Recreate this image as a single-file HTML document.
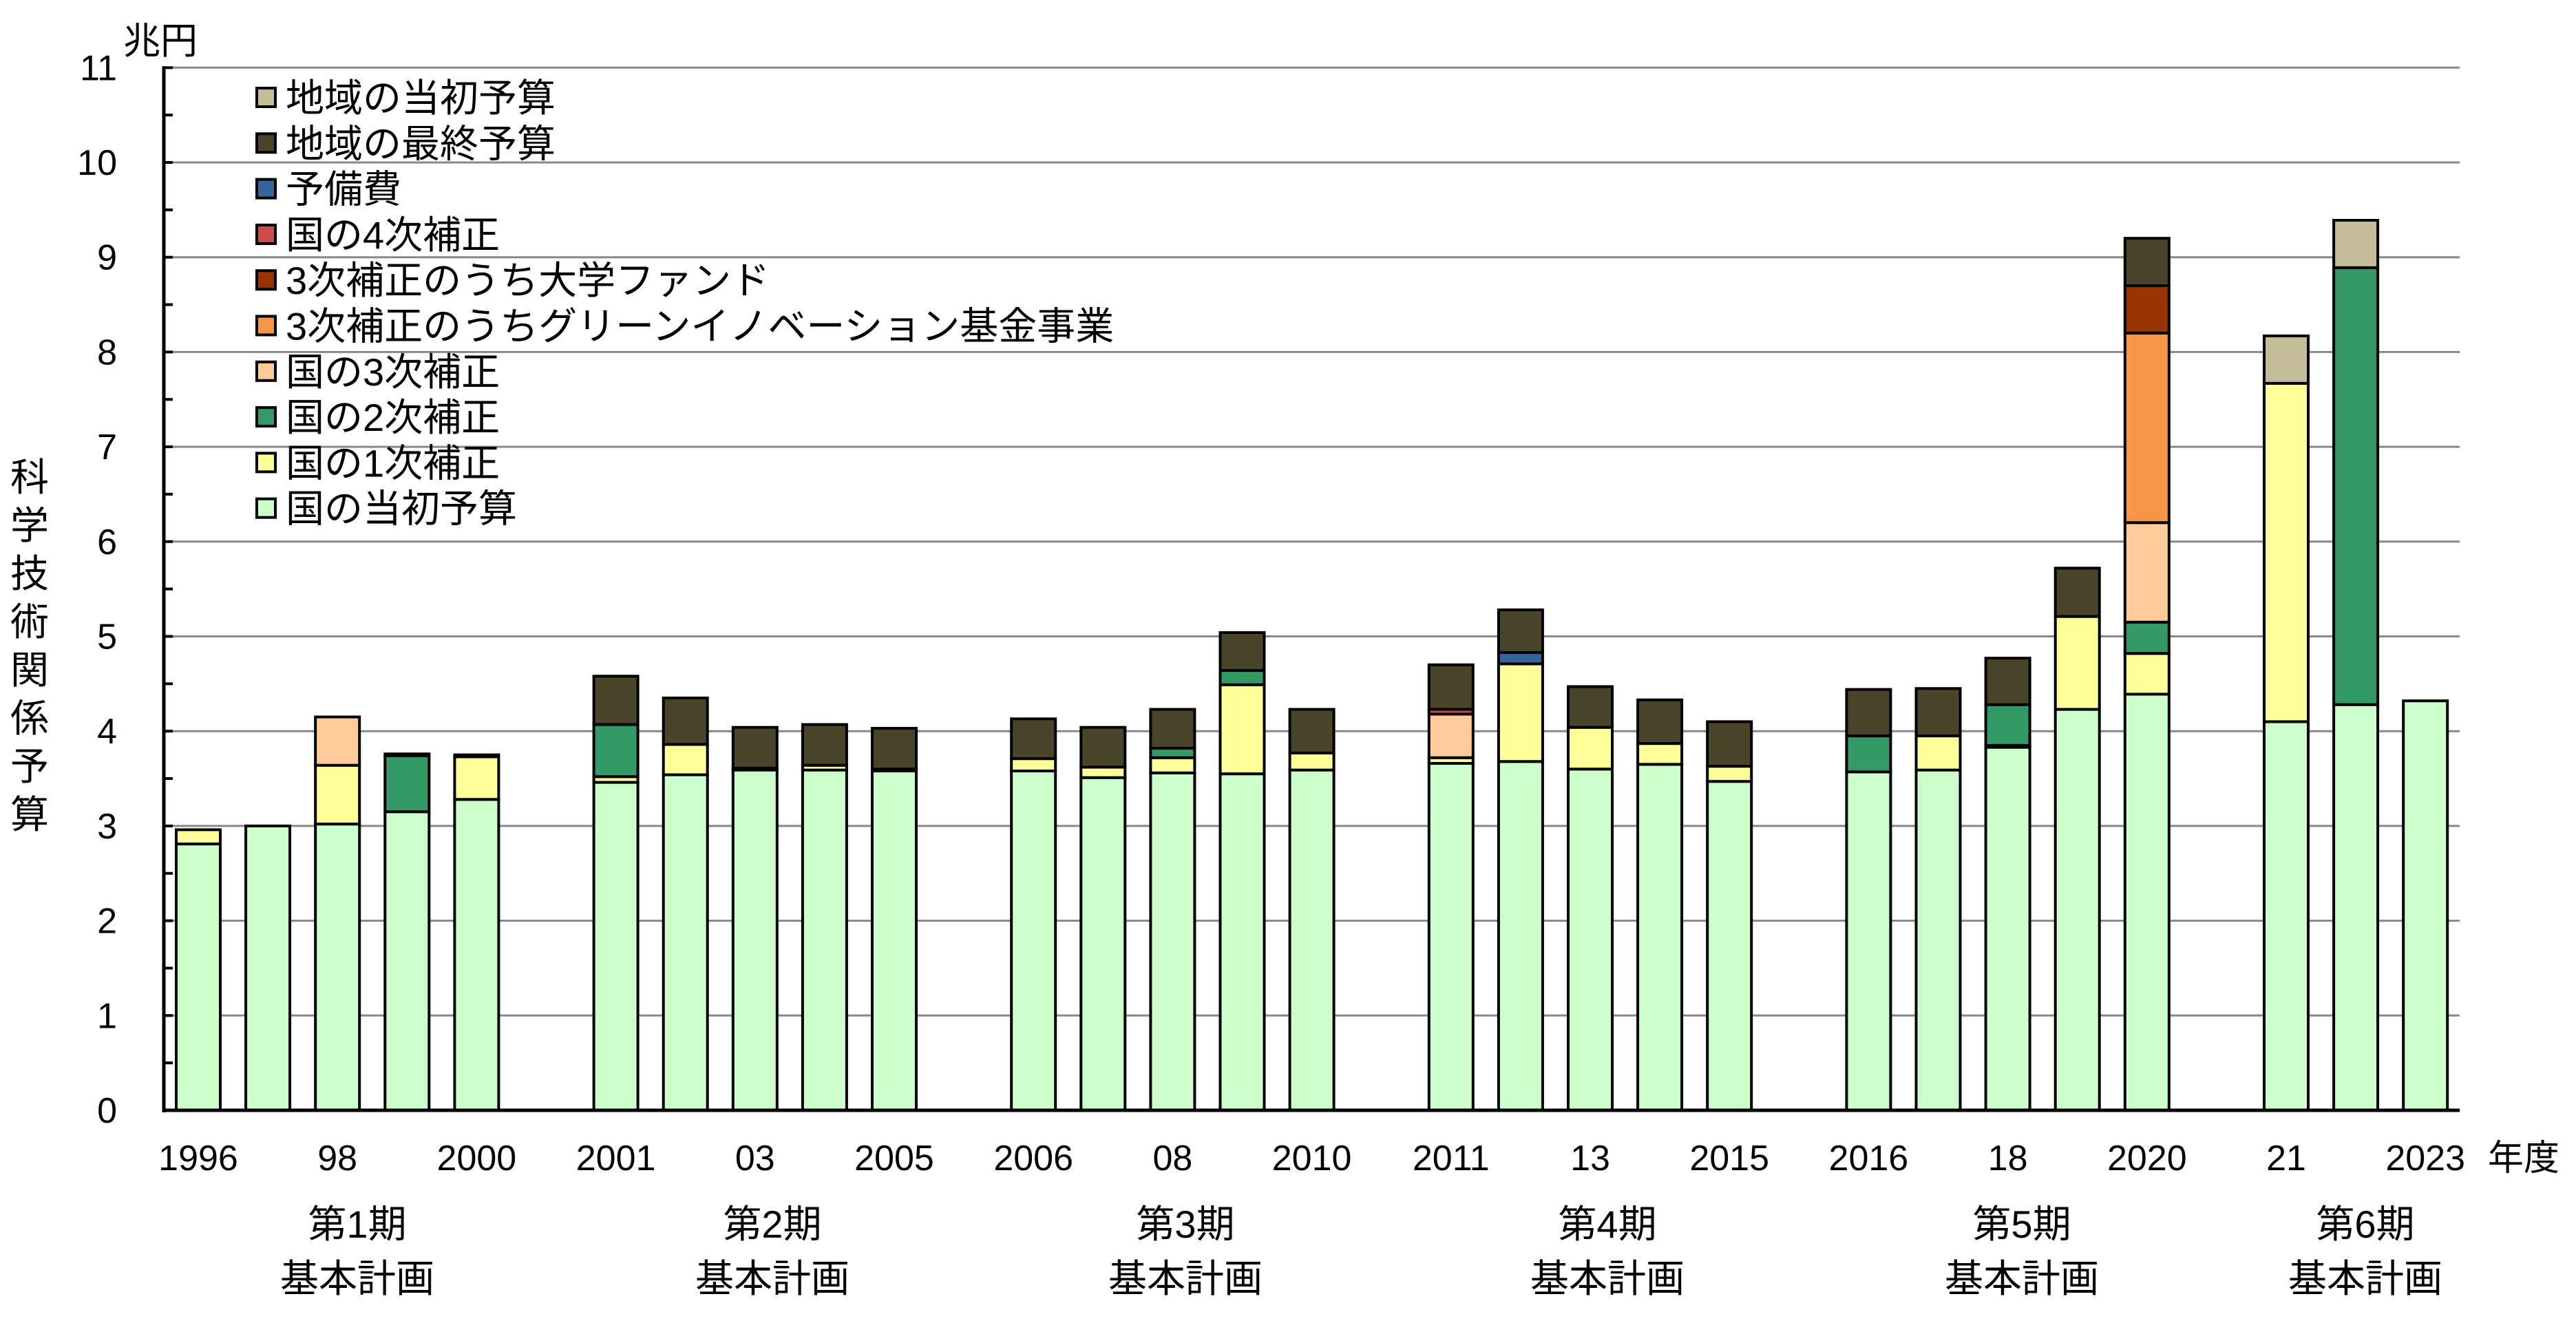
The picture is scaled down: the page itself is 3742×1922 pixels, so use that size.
<!DOCTYPE html>
<html><head><meta charset="utf-8">
<style>
html,body{margin:0;padding:0;background:#fff;}
svg{display:block;}
text{font-family:"Liberation Sans","Noto Sans CJK JP",sans-serif;fill:#000;}
</style></head>
<body>
<svg id="chart" width="3742" height="1922" viewBox="0 0 3742 1922" xmlns="http://www.w3.org/2000/svg">
<g id="grid"></g>
<g id="bars"></g>
<g id="axis"></g>
<g id="xlabels"></g>
<g id="legend"></g>
<text x="179" y="78" font-size="54">兆円</text>
<text x="3614" y="1700" font-size="52">年度</text>
<g font-size="56" text-anchor="middle">
<text x="43" y="713">科</text><text x="43" y="783">学</text><text x="43" y="853">技</text><text x="43" y="923">術</text><text x="43" y="993">関</text><text x="43" y="1063">係</text><text x="43" y="1133">予</text><text x="43" y="1203">算</text>
</g>
</svg>
<script>
const years=["1996","97","98","99","2000","2001","02","03","04","2005","2006","07","08","09","2010","2011","12","13","14","2015","2016","17","18","19","2020","21","22","2023"];
const yearLabels=["1996","","98","","2000","2001","","03","","2005","2006","","08","","2010","2011","","13","","2015","2016","","18","","2020","21","","2023"];
const slots=[0,1,2,3,4,6,7,8,9,10,12,13,14,15,16,18,19,20,21,22,24,25,26,27,28,30,31,32];
const natInitial=[2.81,3.00,3.02,3.15,3.28,3.46,3.54,3.59,3.59,3.58,3.58,3.51,3.56,3.55,3.59,3.66,3.68,3.60,3.65,3.47,3.57,3.59,3.83,4.23,4.39,4.10,4.28,4.32];
const sup1=[0.15,0,0.62,0,0.45,0.06,0.32,0.02,0.05,0.02,0.13,0.11,0.16,0.94,0.18,0.06,1.03,0.44,0.22,0.16,0,0.36,0.02,0.98,0.43,3.57,0,0];
const sup2=[0,0,0,0.59,0,0.55,0,0,0,0,0,0,0.10,0.15,0,0,0,0,0,0,0.38,0,0.43,0,0.33,0,4.61,0];
const sup3=[0,0,0.51,0,0,0,0,0,0,0,0,0,0,0,0,0.46,0,0,0,0,0,0,0,0,1.05,0,0,0];
const green=[0,0,0,0,0,0,0,0,0,0,0,0,0,0,0,0,0,0,0,0,0,0,0,0,2.00,0,0,0];
const univ=[0,0,0,0,0,0,0,0,0,0,0,0,0,0,0,0,0,0,0,0,0,0,0,0,0.50,0,0,0];
const sup4=[0,0,0,0,0,0,0,0,0,0,0,0,0,0,0,0.05,0,0,0,0,0,0,0,0,0,0,0,0];
const reserve=[0,0,0,0,0,0,0,0,0,0,0,0,0,0,0,0,0.12,0,0,0,0,0,0,0,0,0,0,0];
const localFinal=[0,0,0,0.02,0.02,0.51,0.49,0.43,0.43,0.43,0.42,0.42,0.41,0.40,0.46,0.47,0.45,0.43,0.46,0.47,0.49,0.50,0.49,0.51,0.50,0,0,0];
const localInitial=[0,0,0,0,0,0,0,0,0,0,0,0,0,0,0,0,0,0,0,0,0,0,0,0,0,0.50,0.50,0];
const yTicks=["0","1","2","3","4","5","6","7","8","9","10","11"];
const seriesNames=["国の当初予算","国の1次補正","国の2次補正","国の3次補正","3次補正のうちグリーンイノベーション基金事業","3次補正のうち大学ファンド","国の4次補正","予備費","地域の最終予算","地域の当初予算"];
const seriesKeys=["nat-initial","sup1","sup2","sup3","green-fund","univ-fund","sup4","reserve","local-final","local-initial"];
const seriesData=[natInitial,sup1,sup2,sup3,green,univ,sup4,reserve,localFinal,localInitial];
const colors=["#CCFFCC","#FFFF99","#339966","#FFCC99","#F79646","#993300","#CC4C4C","#336699","#4A452A","#C4BD97"];
const periods=[["第1期",519],["第2期",1122],["第3期",1722],["第4期",2335],["第5期",2937],["第6期",3436]];

const NS="http://www.w3.org/2000/svg";
const X0=238, X1=3573, Y0=1613, UNIT=137.7, PITCH=101.1, BX=256, BW=64;
const yS=v=>Y0-v*UNIT;
const xS=s=>BX+s*PITCH;
function mk(tag,attrs,parent){const e=document.createElementNS(NS,tag);for(const k in attrs)e.setAttribute(k,attrs[k]);parent.appendChild(e);return e;}
const grid=document.getElementById('grid'),bars=document.getElementById('bars'),axis=document.getElementById('axis'),xl=document.getElementById('xlabels'),lg=document.getElementById('legend');
yTicks.forEach((t,i)=>{
  if(i>0){const l=mk('line',{x1:X0,x2:X1,y1:yS(i),y2:yS(i),stroke:'#888',"stroke-width":3},grid);
  
  }
  const tx=mk('text',{x:170,y:yS(i)+18,"font-size":52,"text-anchor":"end"},axis);tx.textContent=t;
  
  
});
for(let h=0;h<=22;h++){const y=Y0-h*UNIT/2;const tk=mk('line',{x1:X0,x2:X0+13,y1:y,y2:y,stroke:'#000',"stroke-width":4},axis);
  
  }
const ax=mk('line',{x1:X0,x2:X0,y1:yS(11)-2,y2:Y0+3,stroke:'#000',"stroke-width":5},axis);


years.forEach((yr,i)=>{
  let cum=0;const x=xS(slots[i]);
  seriesData.forEach((arr,s)=>{const v=arr[i];if(v<=0)return;
    const r=mk('rect',{x:x,y:yS(cum+v),width:BW,height:v*UNIT,fill:colors[s],stroke:'#000',"stroke-width":4},bars);
    
    
    cum+=v;});
  if(yearLabels[i]){const t=mk('text',{x:x+BW/2,y:1700,"font-size":52,"text-anchor":"middle"},xl);t.textContent=yearLabels[i];
    
    }
});
const xa=mk('line',{x1:X0-2,x2:X1,y1:Y0,y2:Y0,stroke:'#000',"stroke-width":5},axis);


periods.forEach(p=>{
  const a=mk('text',{x:p[1],y:1798,"font-size":56,"text-anchor":"middle"},xl);a.textContent=p[0];
  
  
  const b=mk('text',{x:p[1],y:1877,"font-size":56,"text-anchor":"middle"},xl);b.textContent="基本計画";
  
  
});
for(let k=0;k<10;k++){const s=9-k;const cy=142+k*66.3;
  const g=mk('g',{},lg);
  
  
  mk('rect',{x:373,y:cy-14,width:27,height:27,fill:colors[s],stroke:'#000',"stroke-width":4},g);
  const t=mk('text',{x:415,y:cy+20,"font-size":56},g);t.textContent=seriesNames[s];
}
</script>
</body></html>
